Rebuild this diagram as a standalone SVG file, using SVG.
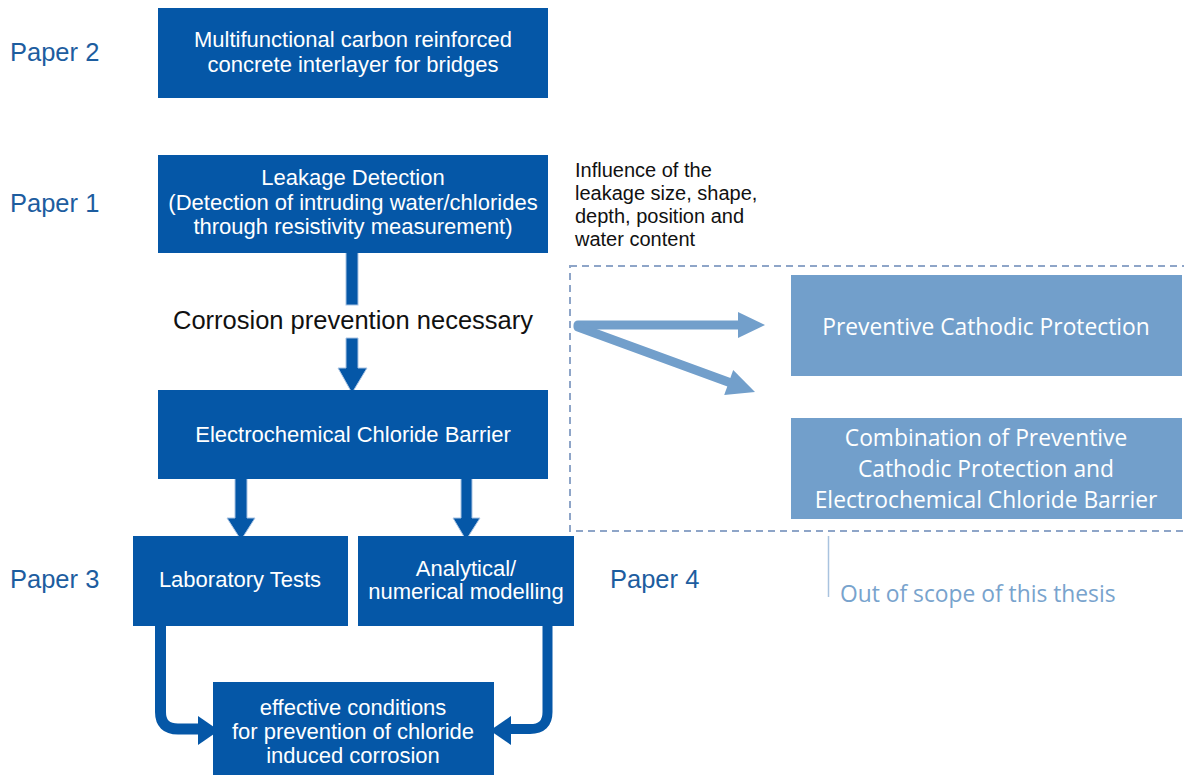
<svg xmlns="http://www.w3.org/2000/svg" width="1184" height="775" viewBox="0 0 1184 775">
<style>
.dk{fill:#0557a7}
.lt{fill:#729fcb}
.wt{fill:#ffffff;font-family:"Liberation Sans",Arial,sans-serif;font-size:22px;text-anchor:middle}
.wl{fill:#ffffff;font-family:"Open Sans","Noto Sans",sans-serif;font-size:22.8px;text-anchor:middle}
.pp{fill:#1d5d9f;font-family:"Liberation Sans",Arial,sans-serif;font-size:25.5px}
.bk{fill:#111111;font-family:"Liberation Sans",Arial,sans-serif;font-size:20px}
.arr{fill:#0557a7;stroke:#a8c3e3;stroke-width:1}
</style>
<rect width="1184" height="775" fill="#ffffff"/>

<text class="pp" x="10" y="61">Paper 2</text>
<text class="pp" x="10" y="212">Paper 1</text>
<text class="pp" x="10" y="588">Paper 3</text>
<text class="pp" x="610" y="588">Paper 4</text>

<g id="connectors">
  <rect class="arr" x="346" y="249" width="12" height="56"/>
  <text x="353" y="329" style="font-family:'Liberation Sans',Arial,sans-serif;font-size:25.5px;text-anchor:middle;fill:#111">Corrosion prevention necessary</text>
  <polygon class="arr" points="346,338 358,338 358,368 367,368 352,393 338,368 346,368"/>
  <polygon class="arr" points="235,474 247,474 247,518 255,518 241,540 227,518 235,518"/>
  <polygon class="arr" points="461,474 472,474 472,518 480,518 466,540 453,518 461,518"/>
  <path d="M160.5,622 V712 Q160.5,729 178,729 H200" fill="none" stroke="#0557a7" stroke-width="11"/>
  <polygon class="dk" points="198,716 219,730.5 198,745"/>
  <path d="M547.5,622 V712 Q547.5,729 530,729 H508" fill="none" stroke="#0557a7" stroke-width="10"/>
  <polygon class="dk" points="511,716 490,730.5 511,745"/>
  <path d="M578,325 H742" fill="none" stroke="#729fcb" stroke-width="9" stroke-linecap="round"/>
  <polygon class="lt" points="738,312 765,325 738,338"/>
  <path d="M578,327 L731,383" fill="none" stroke="#729fcb" stroke-width="9" stroke-linecap="round"/>
  <polygon class="lt" points="724.2,395 733.2,370 755,392"/>
  <rect x="570" y="266" width="630" height="265" fill="none" stroke="#8ea5c8" stroke-width="2" stroke-dasharray="7,5"/>
  <line x1="828.5" y1="536" x2="828.5" y2="597" stroke="#a9c3df" stroke-width="1.5"/>
</g>

<g id="paper2">
  <rect class="dk" x="158" y="8" width="390" height="90"/>
  <text class="wt" x="353" y="47">Multifunctional carbon reinforced</text>
  <text class="wt" x="353" y="72">concrete interlayer for bridges</text>
</g>
<g id="leakage">
  <rect class="dk" x="158" y="155" width="390" height="98"/>
  <text class="wt" x="353" y="185">Leakage Detection</text>
  <text class="wt" x="353" y="210">(Detection of intruding water/chlorides</text>
  <text class="wt" x="353" y="234">through resistivity measurement)</text>
</g>
<g id="influence">
  <text class="bk" x="575" y="177">Influence of the</text>
  <text class="bk" x="575" y="200">leakage size, shape,</text>
  <text class="bk" x="575" y="223">depth, position and</text>
  <text class="bk" x="575" y="246">water content</text>
</g>
<g id="barrier">
  <rect class="dk" x="158" y="390" width="390" height="89"/>
  <text class="wt" x="353" y="442">Electrochemical Chloride Barrier</text>
</g>
<g id="lab">
  <rect class="dk" x="133" y="536" width="215" height="90"/>
  <text class="wt" x="240" y="587">Laboratory Tests</text>
</g>
<g id="analytical">
  <rect class="dk" x="358" y="536" width="216" height="90"/>
  <text class="wt" x="466" y="576">Analytical/</text>
  <text class="wt" x="466" y="599">numerical modelling</text>
</g>
<g id="effective">
  <rect class="dk" x="213" y="682" width="281" height="93"/>
  <text class="wt" x="353" y="715">effective conditions</text>
  <text class="wt" x="353" y="739">for prevention of chloride</text>
  <text class="wt" x="353" y="763">induced corrosion</text>
</g>
<g id="pcp">
  <rect class="lt" x="791" y="275" width="391" height="101"/>
  <text class="wl" x="986" y="335">Preventive Cathodic Protection</text>
</g>
<g id="combo">
  <rect class="lt" x="791" y="418" width="391" height="101"/>
  <text class="wl" x="986" y="446">Combination of Preventive</text>
  <text class="wl" x="986" y="477">Cathodic Protection and</text>
  <text class="wl" x="986" y="508">Electrochemical Chloride Barrier</text>
</g>
<g id="outofscope">
  <text x="840" y="602" style="font-family:'Open Sans','Noto Sans',sans-serif;font-size:22.8px;fill:#78a3cd">Out of scope of this thesis</text>
</g>
</svg>
